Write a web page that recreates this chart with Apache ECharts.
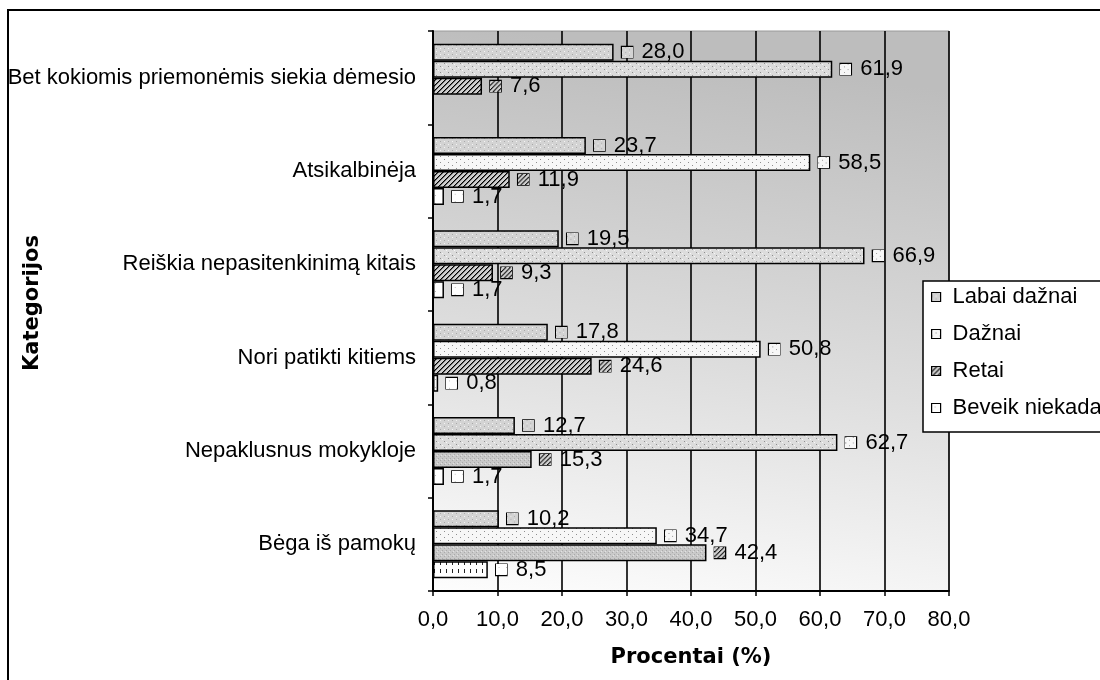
<!DOCTYPE html>
<html><head><meta charset="utf-8">
<script src="https://cdn.jsdelivr.net/npm/echarts@6/dist/echarts.min.js"></script>
<style>html,body{margin:0;padding:0;background:#fff}#c{width:1100px;height:680px}</style>
</head><body><div id="c"></div>
<script>
// ---- data ----
const categories = ['Bet kokiomis priemonėmis siekia dėmesio','Atsikalbinėja','Reiškia nepasitenkinimą kitais','Nori patikti kitiems','Nepaklusnus mokykloje','Bėga iš pamokų'];
const seriesNames = ['Labai dažnai','Dažnai','Retai','Beveik niekada'];
const labaiDaznai = [28.0, 23.7, 19.5, 17.8, 12.7, 10.2];
const daznai = [61.9, 58.5, 66.9, 50.8, 62.7, 34.7];
const retai = [7.6, 11.9, 9.3, 24.6, 15.3, 42.4];
const beveikNiekada = [null, 1.7, 1.7, 0.8, 1.7, 8.5];
const xMin = 0, xMax = 80, xInterval = 10;
const xAxisTitle = 'Procentai (%)';
const yAxisTitle = 'Kategorijos';

// ---- styles ----
const FONT = "'Liberation Sans', Arial, sans-serif";
const BOLD = "'DejaVu Sans', sans-serif";
function tile(w, h, bg, pts) {
  const c = document.createElement('canvas'); c.width = w; c.height = h;
  const g = c.getContext('2d'); g.fillStyle = bg; g.fillRect(0, 0, w, h);
  pts.forEach(p => { g.fillStyle = p[2]; g.fillRect(p[0], p[1], p[3] || 1, p[4] || 1); });
  return c;
}
function hatch(bg, line) {
  const n = 5, pts = [];
  for (let x = 0; x < n; x++) for (let y = 0; y < n; y++) {
    if ((x + y) % n === n - 1) pts.push([x, y, line]);
    if ((x + y) % n === 0) pts.push([x, y, '#6a6a6a']);
  }
  return tile(n, n, bg, pts);
}
const tLabai = tile(8, 6, '#d3d3d3', [[0,0,'#f4f4f4'],[4,3,'#f4f4f4'],[4,0,'#a8a8a8'],[0,3,'#a8a8a8']]);
const tDaznai = tile(8, 6, '#f7f7f7', [[0,0,'#8e8e8e'],[4,3,'#8e8e8e']]);
const tDaznaiGray = tile(8, 6, '#dcdcdc', [[0,0,'#8e8e8e'],[4,3,'#8e8e8e'],[2,1,'#f6f6f6'],[6,4,'#f6f6f6']]);
const tRetai = hatch('#cfcfcf', '#000');
const tRetaiGray = tile(4, 4, '#c9c9c9', [[0,0,'#aaaaaa'],[2,2,'#aaaaaa'],[1,3,'#e2e2e2']]);
const tBeveik = tile(8, 8, '#ffffff', [[3,3,'#bbbbbb']]);
const tBeveikDash = tile(6, 8, '#ffffff', [[2,1,'#222',1,4]]);
const pat = t => ({ image: t, repeat: 'repeat' });
function icon(t) {
  const c = document.createElement('canvas'); c.width = 12; c.height = 12;
  const g = c.getContext('2d'); g.fillStyle = g.createPattern(t, 'repeat'); g.fillRect(0, 0, 12, 12);
  return c;
}
const seriesTiles = [tLabai, tDaznai, tRetai, tBeveik];
const seriesValues = [labaiDaznai, daznai, retai, beveikNiekada];
// per-bar fill overrides seen in the picture: [series, category] -> tile
const overrides = { '1,0': tDaznaiGray, '1,2': tDaznaiGray, '1,4': tDaznaiGray, '2,4': tRetaiGray, '2,5': tRetaiGray, '3,5': tBeveikDash };
const fmt = v => v.toFixed(1).replace('.', ',');

const series = seriesNames.map((name, si) => ({
  name, type: 'bar', barWidth: 17, barGap: '0%',
  itemStyle: { color: pat(seriesTiles[si]), borderColor: '#000', borderWidth: 1.5 },
  data: seriesValues[si].map((v, ci) => {
    const o = overrides[si + ',' + ci];
    return o ? { value: v, itemStyle: { color: pat(o) } } : v;
  }),
  label: {
    show: true, position: 'right', distance: 8,
    formatter: p => p.value == null ? '' : '{k|}{v|' + fmt(p.value) + '}',
    rich: {
      k: { width: 11, height: 11, borderColor: '#000', borderWidth: 1.6, backgroundColor: { image: icon(seriesTiles[si]) } },
      v: { fontSize: 22, color: '#000', fontFamily: FONT, padding: [0, 0, 0, 9] }
    }
  }
}));

const chart = echarts.init(document.getElementById('c'), null, { renderer: 'canvas' });
chart.setOption({
  animation: false,
  backgroundColor: '#fff',
  textStyle: { fontFamily: FONT },
  grid: {
    left: 433, right: 151, top: 31, bottom: 89, show: true,
    borderColor: '#9a9a9a', borderWidth: 1,
    backgroundColor: new echarts.graphic.LinearGradient(0.15, 0, 0, 1, [
      { offset: 0, color: '#bdbdbd' }, { offset: 0.55, color: '#dedede' }, { offset: 1, color: '#fdfdfd' }
    ])
  },
  legend: {
    data: seriesNames.map(n => ({ name: n, icon: 'rect' })), orient: 'vertical', left: 923, top: 281,
    itemWidth: 9, itemHeight: 9, itemGap: 15,
    itemStyle: { borderColor: '#000', borderWidth: 1.2 },
    padding: [5, 10, 13, 8], borderColor: '#000', borderWidth: 1.5, backgroundColor: '#fff',
    textStyle: { fontSize: 22, color: '#000', fontFamily: FONT, padding: [0, 0, 0, 7] }
  },
  xAxis: {
    type: 'value', min: xMin, max: xMax, interval: xInterval,
    name: xAxisTitle, nameLocation: 'middle', nameGap: 56,
    nameTextStyle: { fontFamily: BOLD, fontWeight: 'bold', fontSize: 21, color: '#000' },
    axisLine: { show: true, lineStyle: { color: '#000', width: 2 } },
    axisTick: { show: true, length: 5, lineStyle: { color: '#000', width: 1.5 } },
    axisLabel: { fontSize: 22, color: '#000', margin: 18, fontFamily: FONT, formatter: v => fmt(v) },
    splitLine: { show: true, lineStyle: { color: '#000', width: 1.6 } }
  },
  yAxis: {
    type: 'category', data: categories, inverse: true,
    axisLine: { show: true, lineStyle: { color: '#000', width: 2 } },
    axisTick: { show: true, length: 5, lineStyle: { color: '#000', width: 1.5 } },
    axisLabel: { fontSize: 22, color: '#000', margin: 17, fontFamily: FONT },
    splitLine: { show: false }
  },
  graphic: [
    { type: 'rect', silent: true, z: 100, shape: { x: 8, y: 10, width: 1200, height: 800 }, style: { fill: 'none', stroke: '#000', lineWidth: 2 } },
    { type: 'text', silent: true, z: 100, x: 33, y: 303, rotation: Math.PI / 2,
      style: { text: yAxisTitle, font: 'bold 21px ' + BOLD, fill: '#000', align: 'center', verticalAlign: 'middle' } }
  ],
  series
});
</script></body></html>
